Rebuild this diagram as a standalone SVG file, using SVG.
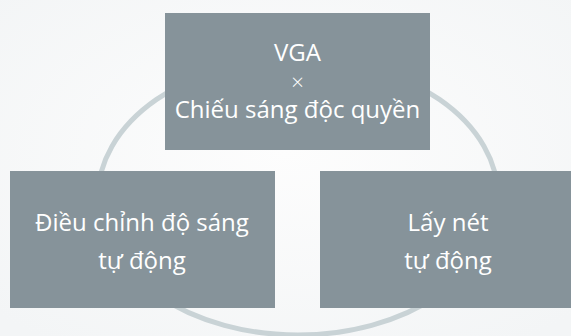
<svg xmlns="http://www.w3.org/2000/svg" width="571" height="336" viewBox="0 0 571 336">
<defs>
<radialGradient id="bg" cx="0.5" cy="0.45" r="0.7">
<stop offset="0" stop-color="#fdfdfd"/>
<stop offset="1" stop-color="#f3f5f6"/>
</radialGradient>
</defs>
<style>
.box{fill:#86939a}
.t{fill:#ffffff;font-family:"Open Sans","Noto Sans","DejaVu Sans",sans-serif;font-size:24px;text-anchor:middle}
.x{font-size:22px;font-weight:300}
.ring{fill:none;stroke:#c9d3d6;stroke-width:5}
</style>
<rect width="571" height="336" fill="url(#bg)"/>
<g id="connectors">
<ellipse class="ring" cx="298" cy="197" rx="200" ry="138"/>
</g>
<g id="node-top">
<rect class="box" x="165" y="13" width="265" height="137"/>
<text class="t" x="297.5" y="61">VGA</text>
<text class="t x" x="297.5" y="90">×</text>
<text class="t" x="297.5" y="118">Chiếu sáng độc quyền</text>
</g>
<g id="node-left">
<rect class="box" x="10" y="171" width="265" height="137"/>
<text class="t" x="142" y="231">Điều chỉnh độ sáng</text>
<text class="t" x="142" y="269">tự động</text>
</g>
<g id="node-right">
<rect class="box" x="320" y="171" width="265" height="137"/>
<text class="t" x="448" y="231">Lấy nét</text>
<text class="t" x="448" y="269">tự động</text>
</g>
</svg>
